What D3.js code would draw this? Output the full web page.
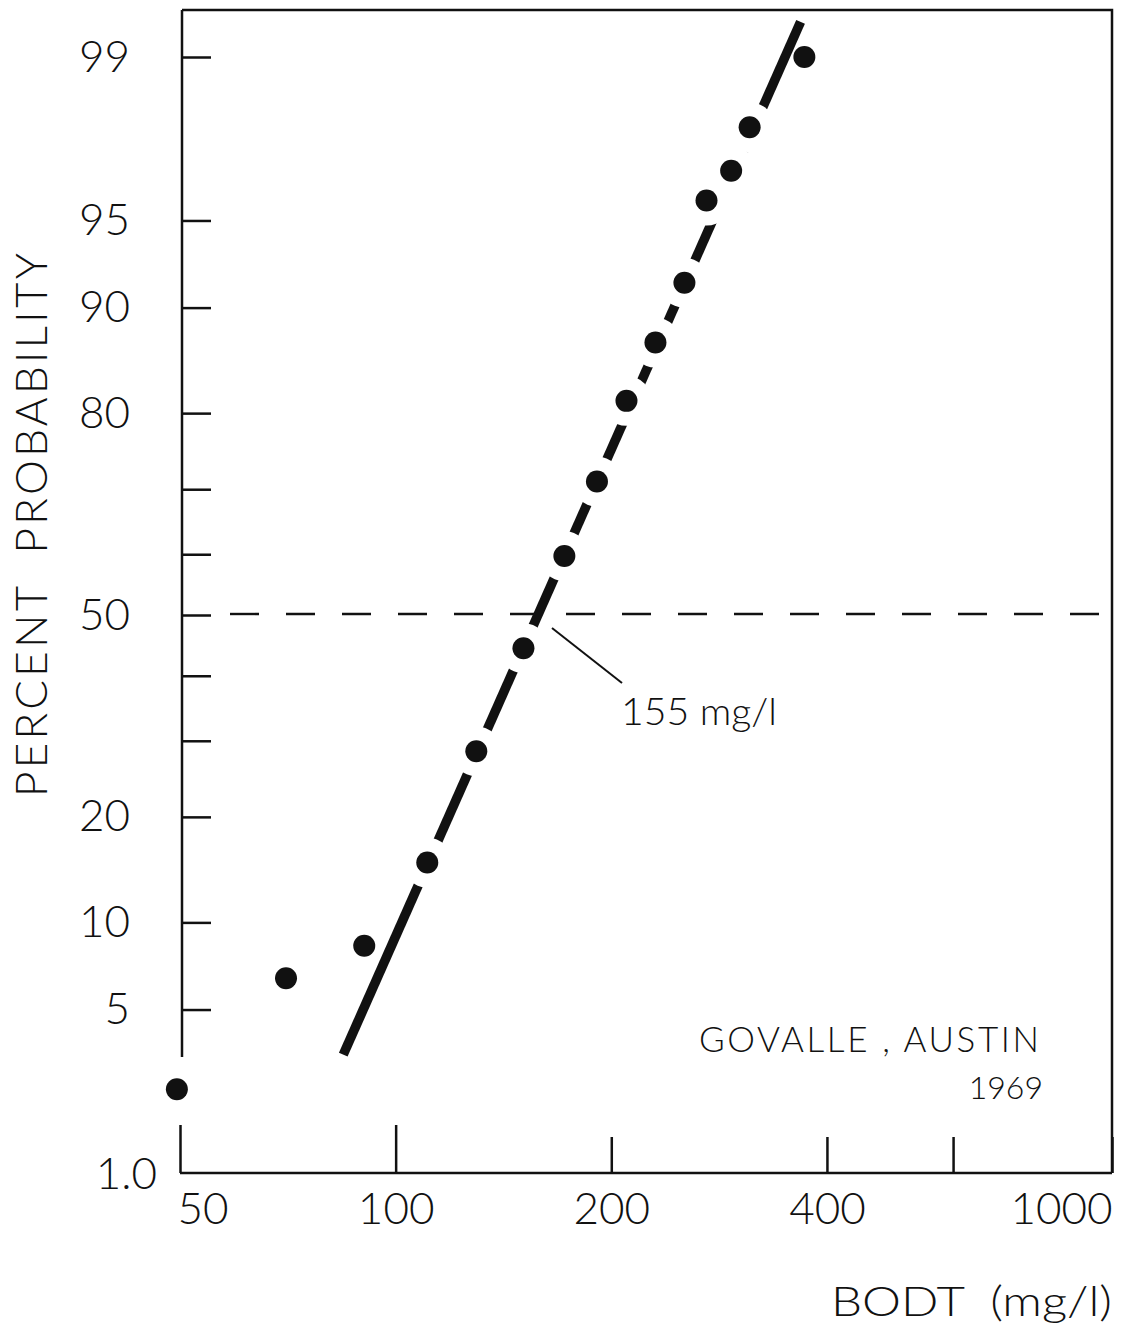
<!DOCTYPE html>
<html>
<head>
<meta charset="utf-8">
<script src="https://cdn.jsdelivr.net/npm/d3@7"></script>
<style>
  body { margin: 0; background: #ffffff; }
  svg { display: block; }
  text { font-family: Lato, "Open Sans", sans-serif; font-weight: 300; fill: #111; white-space: pre; }
</style>
</head>
<body>
<div id="chart"></div>
<script>
// observed BOD values (mg/l) and their plotting positions (percent)
var bodValues = [49.5, 70.3, 90.4, 110.7, 129.6, 150.8, 172, 191, 210, 230.5, 253, 271.6, 294, 312, 372];
var pctValues = [2.4, 6.5, 8.4, 15.1, 28.5, 44.5, 59.7, 71.1, 81.4, 87.2, 91.7, 95.8, 96.8, 97.9, 99.0];

// fitted line end points
var fitBod = [84.5, 367.5];
var fitPct = [3.34, 99.33];

var yTicks = [99, 95, 90, 80, 70, 60, 50, 40, 30, 20, 10, 5];
var yLabels = {99: "99", 95: "95", 90: "90", 80: "80", 50: "50", 20: "20", 10: "10", 5: "5"};
var yCorner = 1;
var yCornerLabel = "1.0";
var xTicks = [50, 100, 200, 400, 600, 1000];
var xLabels = {50: "50", 100: "100", 200: "200", 400: "400", 1000: "1000"};
var longXTicks = [50, 100];

var median = 155;
var medianLabel = "155 mg/l";
var siteLabel = "GOVALLE , AUSTIN";
var yearLabel = "1969";
var xTitle = "BODT  (mg/l)";
var yTitle = "PERCENT  PROBABILITY";

var W = 1127, H = 1330;
var mLeft = 182, mRight = 1112, mTop = 10, mBottom = 1173;

// inverse normal cdf (Acklam)
function probit(p) {
	var a = [-3.969683028665376e+01, 2.209460984245205e+02, -2.759285104469687e+02, 1.383577518672690e+02, -3.066479806614716e+01, 2.506628277459239e+00];
	var b = [-5.447609879822406e+01, 1.615858368580409e+02, -1.556989798598866e+02, 6.680131188771972e+01, -1.328068155288572e+01];
	var c = [-7.784894002430293e-03, -3.223964580411365e-01, -2.400758277161838e+00, -2.549732539343734e+00, 4.374664141464968e+00, 2.938163982698783e+00];
	var d = [7.784695709041462e-03, 3.224671290700398e-01, 2.445134137142996e+00, 3.754408661907416e+00];
	var plow = 0.02425, q, r;
	if (p < plow) {
		q = Math.sqrt(-2 * Math.log(p));
		return (((((c[0]*q+c[1])*q+c[2])*q+c[3])*q+c[4])*q+c[5]) / ((((d[0]*q+d[1])*q+d[2])*q+d[3])*q+1);
	}
	if (p > 1 - plow) {
		q = Math.sqrt(-2 * Math.log(1 - p));
		return -(((((c[0]*q+c[1])*q+c[2])*q+c[3])*q+c[4])*q+c[5]) / ((((d[0]*q+d[1])*q+d[2])*q+d[3])*q+1);
	}
	q = p - 0.5; r = q * q;
	return (((((a[0]*r+a[1])*r+a[2])*r+a[3])*r+a[4])*r+a[5])*q / (((((b[0]*r+b[1])*r+b[2])*r+b[3])*r+b[4])*r+1);
}

var x = d3.scaleLog().domain([50, 1000]).range([180, mRight]);
var yz = d3.scaleLinear().domain([probit(0.01), probit(0.99)]).range([mBottom, 57]);
function y(p) { return yz(probit(p / 100)); }

var points = bodValues.map(function(v, i) { return {bod: v, pct: pctValues[i]}; });
var fit = fitBod.map(function(v, i) { return {bod: v, pct: fitPct[i]}; });

// distance of a dot from the fitted line, in pixels
var fx0 = x(fit[0].bod), fy0 = y(fit[0].pct), fx1 = x(fit[1].bod), fy1 = y(fit[1].pct);
var flen = Math.hypot(fx1 - fx0, fy1 - fy0);
function offLine(d) {
	return Math.abs((fx1 - fx0) * (fy0 - y(d.pct)) - (fx0 - x(d.bod)) * (fy1 - fy0)) / flen;
}

var svg = d3.select("#chart").append("svg")
	.attr("width", W)
	.attr("height", H);

// gaps in the fitted line around the dots that sit on it
var mask = svg.append("defs").append("mask").attr("id", "gaps");
mask.append("rect").attr("width", W).attr("height", H).attr("fill", "#fff");
mask.selectAll("circle").data(points.filter(function(d) { return offLine(d) < 16; })).enter().append("circle")
	.attr("cx", function(d) { return x(d.bod); })
	.attr("cy", function(d) { return y(d.pct); })
	.attr("r", 25)
	.attr("fill", "#000");

// frame
var frame = svg.append("g").attr("stroke", "#111").attr("stroke-width", 2.5).attr("fill", "none");
frame.append("path").attr("d", "M" + mLeft + "," + mTop + "H" + mRight + "V" + mBottom);
frame.append("path").attr("d", "M" + mLeft + "," + mTop + "V1057");
frame.append("path").attr("d", "M" + x(50) + "," + mBottom + "H" + mRight);

// y axis (probability scale)
var yAxis = d3.axisLeft(yz)
	.tickValues(yTicks.map(function(t) { return probit(t / 100); }))
	.tickSizeInner(-29)
	.tickSizeOuter(0)
	.tickPadding(52)
	.tickFormat(function(z, i) { return yLabels[yTicks[i]] || ""; });

var gy = svg.append("g")
	.attr("transform", "translate(" + mLeft + ",0)")
	.call(yAxis);
gy.select(".domain").remove();
gy.selectAll(".tick line").attr("stroke", "#111").attr("stroke-width", 2.5);
gy.selectAll(".tick text")
	.attr("font-size", 44)
	.attr("font-family", null)
	.attr("fill", "#111");

svg.append("text")
	.attr("x", 157)
	.attr("y", y(yCorner))
	.attr("dy", "0.36em")
	.attr("text-anchor", "end")
	.attr("font-size", 44)
	.text(yCornerLabel);

// x axis (log scale)
var xAxis = d3.axisBottom(x)
	.tickValues(xTicks)
	.tickSizeInner(-36)
	.tickSizeOuter(0)
	.tickPadding(20)
	.tickFormat(function(d) { return xLabels[d] || ""; });

var gx = svg.append("g")
	.attr("transform", "translate(0," + mBottom + ")")
	.call(xAxis);
gx.select(".domain").remove();
gx.selectAll(".tick line")
	.attr("stroke", "#111")
	.attr("stroke-width", 2.5)
	.attr("y2", function(d) { return longXTicks.indexOf(d) >= 0 ? -48 : -36; });
gx.selectAll(".tick text")
	.attr("font-size", 44)
	.attr("font-family", null)
	.attr("fill", "#111")
	.attr("dx", function(d) { return d === 50 ? -3 : 0; })
	.attr("text-anchor", function(d) { return d === 50 ? "start" : d === 1000 ? "end" : "middle"; });

// 50 percent line
svg.append("line")
	.attr("x1", 230)
	.attr("x2", 1104)
	.attr("y1", y(50) - 1)
	.attr("y2", y(50) - 1)
	.attr("stroke", "#111")
	.attr("stroke-width", 2.4)
	.attr("stroke-dasharray", "29,27");

// fitted line
var line = d3.line()
	.x(function(d) { return x(d.bod); })
	.y(function(d) { return y(d.pct); });

svg.append("path")
	.datum(fit)
	.attr("d", line)
	.attr("fill", "none")
	.attr("stroke", "#111")
	.attr("stroke-width", 9.5)
	.attr("mask", "url(#gaps)");

// data points
svg.selectAll(".dot").data(points).enter().append("circle")
	.attr("class", "dot")
	.attr("cx", function(d) { return x(d.bod); })
	.attr("cy", function(d) { return y(d.pct); })
	.attr("r", 11)
	.attr("fill", "#111");

// median annotation
svg.append("line")
	.attr("x1", x(median) + 20)
	.attr("y1", y(50) + 13)
	.attr("x2", x(median) + 90)
	.attr("y2", y(50) + 68)
	.attr("stroke", "#111")
	.attr("stroke-width", 2);

svg.append("text")
	.attr("x", 621)
	.attr("y", 725)
	.attr("font-size", 38)
	.attr("textLength", 156)
	.attr("lengthAdjust", "spacingAndGlyphs")
	.text(medianLabel);

svg.append("text")
	.attr("x", 699)
	.attr("y", 1052)
	.attr("font-size", 35)
	.attr("textLength", 340)
	.attr("lengthAdjust", "spacing")
	.text(siteLabel);

svg.append("text")
	.attr("x", 1043)
	.attr("y", 1099)
	.attr("text-anchor", "end")
	.attr("font-size", 32)
	.text(yearLabel);

svg.append("text")
	.attr("x", 831)
	.attr("y", 1316)
	.attr("font-size", 41)
	.attr("textLength", 281)
	.attr("lengthAdjust", "spacingAndGlyphs")
	.text(xTitle);

svg.append("text")
	.attr("transform", "translate(47,797) rotate(-90)")
	.attr("font-size", 44)
	.attr("textLength", 544)
	.attr("lengthAdjust", "spacing")
	.text(yTitle);
</script>
</body>
</html>
